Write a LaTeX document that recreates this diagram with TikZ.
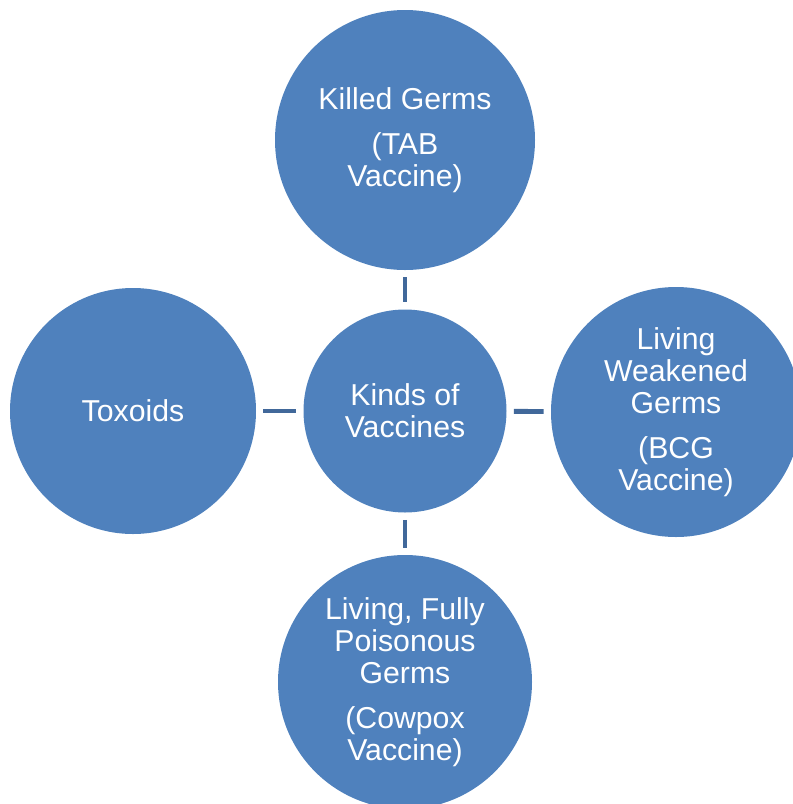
\documentclass[tikz,border=0pt]{standalone}
\usepackage{fontspec}
\setmainfont{Liberation Sans}
\usepackage{xcolor}
\definecolor{vacblue}{HTML}{4F81BD}
\definecolor{vaclink}{HTML}{41689A}
\tikzset{>=latex}
\tikzset{
	bubble/.style={circle, fill=vacblue, text=white, align=center, inner sep=0pt,
		font=\fontsize{21.5}{22.8}\selectfont},
	link/.style={draw=vaclink, line width=3.5pt, shorten <=5pt, shorten >=5pt}
}

\begin{document}
\begin{tikzpicture}[x=0.025cm,y=-0.025cm]
		\useasboundingbox (0,0) rectangle (793,804);
		\clip (0,0) rectangle (793,804);
		
		\node[bubble, minimum size=203*0.025cm] (kinds) at (405,411) {Kinds of\\Vaccines};
		\node[bubble, minimum size=260*0.025cm] (killed) at (405,140) {Killed Germs\\[9pt](TAB\\Vaccine)};
		\node[bubble, minimum size=250*0.025cm] (weak) at (676,412) {Living\\Weakened\\Germs\\[9pt](BCG\\Vaccine)};
		\node[bubble, minimum size=254*0.025cm] (full) at (405,682) {Living, Fully\\Poisonous\\Germs\\[9pt](Cowpox\\Vaccine)};
		\node[bubble, minimum size=246*0.025cm] (toxoids) at (133,411) {Toxoids};
		
		\draw[link] (killed) -- (kinds);
		\draw[link] (kinds) -- (weak);
		\draw[link] (kinds) -- (full);
		\draw[link] (toxoids) -- (kinds);
	\end{tikzpicture}
\end{document}
